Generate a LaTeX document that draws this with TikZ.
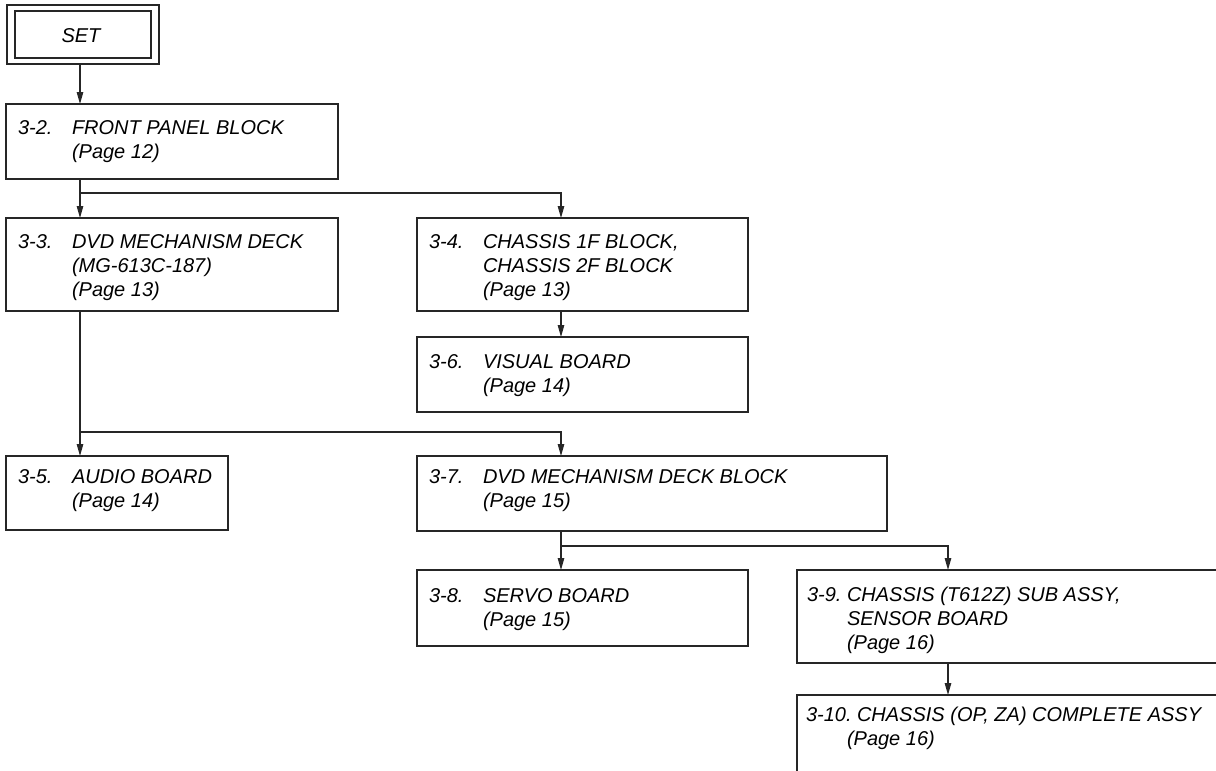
\documentclass[tikz,border=0pt]{standalone}
\usepackage{fontspec}
\setmainfont{Liberation Sans}
\usetikzlibrary{arrows.meta}
\begin{document}
\begin{tikzpicture}[x=1pt,y=-1pt,
  ln/.style={line width=1.2pt, draw=black!85},
  boxn/.style={ln, rectangle, anchor=north west, inner sep=0pt, outer sep=0pt},
  frame/.style={rectangle, anchor=north west, inner sep=0pt, outer sep=0pt},
  arr/.style={ln, -{Triangle[length=12pt,width=6.5pt]}},
  txt/.style={anchor=base west, inner sep=0pt, outer sep=0pt, font=\fontsize{20}{24}\selectfont\itshape}]
\useasboundingbox (0,0) rectangle (1216,771);
% column coordinates
\coordinate (c1) at (80,0);
\coordinate (c2) at (561,0);
\coordinate (c3) at (948,0);
\coordinate (j1) at (80,193);
\coordinate (j2) at (80,432);
\coordinate (j3) at (561,546);
% SET
\node[boxn, minimum width=152pt, minimum height=59pt] (setout) at (7,5) {};
\node[boxn, minimum width=136pt, minimum height=47pt] (setin) at (15,11) {};
\node[txt, anchor=center] (settxt) at (81,36) {SET};
% 3-2
\node[boxn, minimum width=332pt, minimum height=75pt] (fp) at (6,104) {};
\node[txt] (fpl) at (18,134) {3-2.};
\node[txt] (fpt) at (72,134) {\begin{tabular}[t]{@{}l@{}}FRONT PANEL BLOCK\\(Page 12)\end{tabular}};
% 3-3
\node[boxn, minimum width=332pt, minimum height=93pt] (dvd) at (6,218) {};
\node[txt] (dvdl) at (18,248) {3-3.};
\node[txt] (dvdt) at (72,248) {\begin{tabular}[t]{@{}l@{}}DVD MECHANISM DECK\\(MG-613C-187)\\(Page 13)\end{tabular}};
% 3-4
\node[boxn, minimum width=331pt, minimum height=93pt] (ch) at (417,218) {};
\node[txt] (chl) at (429,248) {3-4.};
\node[txt] (cht) at (483,248) {\begin{tabular}[t]{@{}l@{}}CHASSIS 1F BLOCK,\\CHASSIS 2F BLOCK\\(Page 13)\end{tabular}};
% 3-6
\node[boxn, minimum width=331pt, minimum height=75pt] (vis) at (417,337) {};
\node[txt] (visl) at (429,368) {3-6.};
\node[txt] (vist) at (483,368) {\begin{tabular}[t]{@{}l@{}}VISUAL BOARD\\(Page 14)\end{tabular}};
% 3-5
\node[boxn, minimum width=222pt, minimum height=74pt] (aud) at (6,456) {};
\node[txt] (audl) at (18,483) {3-5.};
\node[txt] (audt) at (72,483) {\begin{tabular}[t]{@{}l@{}}AUDIO BOARD\\(Page 14)\end{tabular}};
% 3-7
\node[boxn, minimum width=470pt, minimum height=75pt] (mech) at (417,456) {};
\node[txt] (mechl) at (429,483) {3-7.};
\node[txt] (mecht) at (483,483) {\begin{tabular}[t]{@{}l@{}}DVD MECHANISM DECK BLOCK\\(Page 15)\end{tabular}};
% 3-8
\node[boxn, minimum width=331pt, minimum height=76pt] (servo) at (417,570) {};
\node[txt] (servol) at (429,602) {3-8.};
\node[txt] (servot) at (483,602) {\begin{tabular}[t]{@{}l@{}}SERVO BOARD\\(Page 15)\end{tabular}};
% 3-9 (open to the right)
\node[frame, minimum width=419pt, minimum height=93pt] (b39) at (797,570) {};
\draw[ln] (b39.north east) -- (b39.north west) -- (b39.south west) -- (b39.south east);
\node[txt] (b39l) at (807,601) {3-9.};
\node[txt] (b39t) at (847,601) {\begin{tabular}[t]{@{}l@{}}CHASSIS (T612Z) SUB ASSY,\\SENSOR BOARD\\(Page 16)\end{tabular}};
% 3-10 (open to the right and bottom)
\node[frame, minimum width=419pt, minimum height=76pt] (b310) at (797,695) {};
\draw[ln] (b310.north east) -- (b310.north west) -- (b310.south west);
\node[txt] (b310l) at (806,721) {3-10.};
\node[txt] (b310t) at (857,721) {CHASSIS (OP, ZA) COMPLETE ASSY};
\node[txt] (b310p) at (847,745) {(Page 16)};
% connectors
\draw[arr] (setout.south -| c1) -- (fp.north -| c1);
\draw[arr] (fp.south -| c1) -- (dvd.north -| c1);
\draw[arr] (j1) -| (ch.north -| c2);
\draw[arr] (ch.south -| c2) -- (vis.north -| c2);
\draw[arr] (dvd.south -| c1) -- (aud.north -| c1);
\draw[arr] (j2) -| (mech.north -| c2);
\draw[arr] (mech.south -| c2) -- (servo.north -| c2);
\draw[arr] (j3) -| (b39.north -| c3);
\draw[arr] (b39.south -| c3) -- (b310.north -| c3);
\end{tikzpicture}
\end{document}
